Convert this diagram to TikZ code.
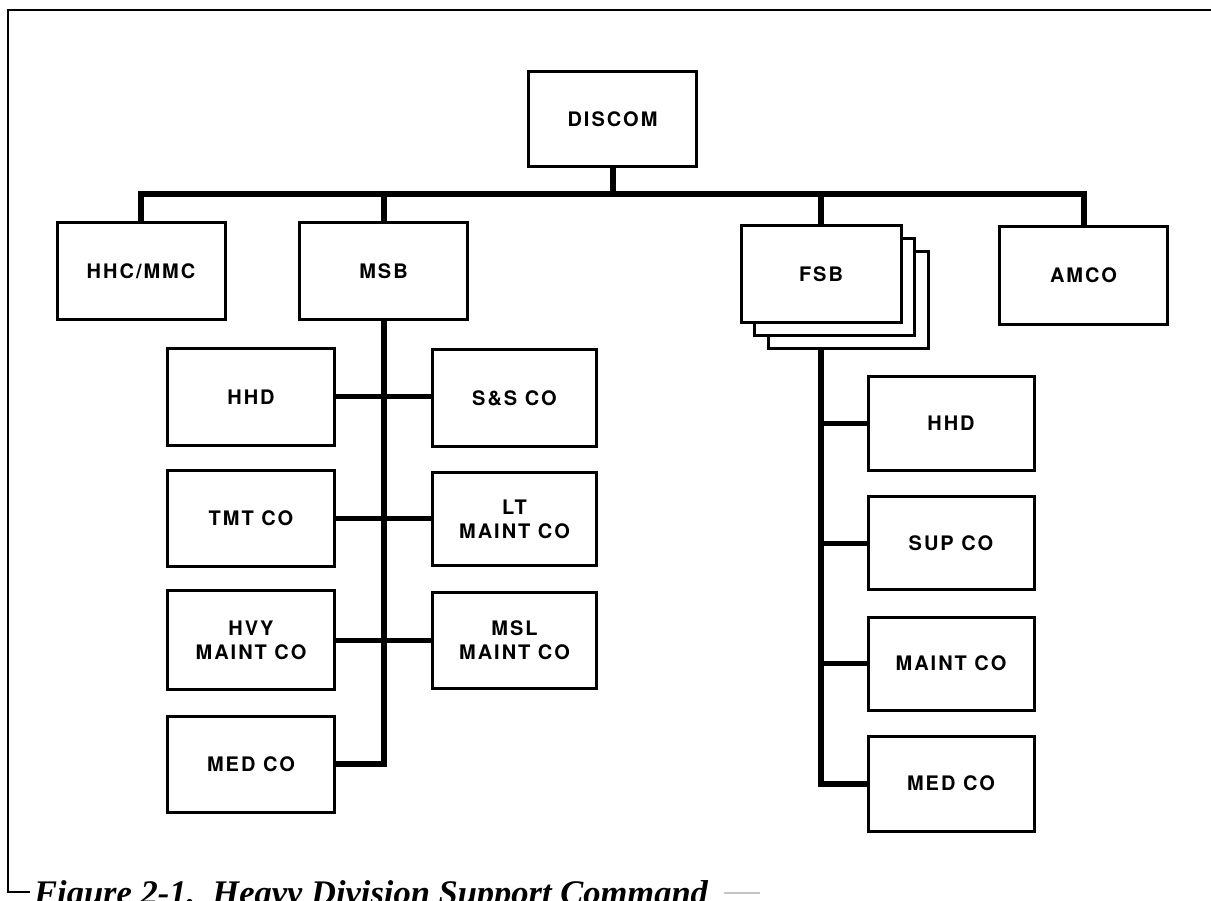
\documentclass[tikz,border=0pt]{standalone}
\usepackage{fontspec}
\newfontfamily\labfont[LetterSpace=10]{TeX Gyre Heros}
\newfontfamily\capfont{Liberation Serif}
\begin{document}
\begin{tikzpicture}[x=1pt,y=-1pt,
  box/.style={draw, line width=3pt, fill=white, inner sep=0pt, align=center,
    font=\labfont\bfseries\fontsize{20}{24}\selectfont},
  topbox/.style={box, minimum width=168pt, minimum height=97pt},
  fsbbox/.style={box, minimum width=160pt, minimum height=97pt},
  child/.style={box, minimum width=167pt, minimum height=96pt},
  childr/.style={box, minimum width=166pt, minimum height=93pt},
  conn/.style={line width=6pt, line join=miter},
  branch/.style={line width=5pt},
  frame/.style={line width=2.5pt},
  ]
\useasboundingbox (0,0) rectangle (1211,901);
% frame and caption
\coordinate (ftr) at (1211,10);
\coordinate (ftl) at (8,10);
\coordinate (fbl) at (8,892);
\coordinate (fbe) at (30,892);
\draw[frame] (ftr) -- (ftl) -- (fbl) -- (fbe);
\node[anchor=base west, inner sep=0pt,
  font=\capfont\bfseries\itshape\fontsize{34.5}{40}\selectfont] (cap) at (34,904)
  {Figure 2-1.\ \ Heavy Division Support Command};
\coordinate (d1) at (724,893);
\coordinate (d2) at (760,893);
\draw[gray!45, line width=2pt] (d1) -- (d2);

% top level
\node[topbox, minimum width=168pt, minimum height=95pt] (discom) at (612.5,119) {DISCOM};
\node[topbox] (hhc) at (141,271) {HHC/MMC};
\node[topbox] (msb) at (383.5,271) {MSB};
\node[fsbbox] (fsb3) at (848,300) {};
\node[fsbbox] (fsb2) at (834,287) {};
\node[fsbbox] (fsb) at (821,274.5) {FSB};
\node[topbox, minimum height=98pt] (amco) at (1083.5,275.5) {AMCO};

\coordinate (bus) at (612.5,194);
\draw[conn] (hhc.north) |- (bus) -| (amco.north);
\draw[conn] (discom.south) -- (bus);
\draw[conn] (msb.north) -- (msb.north |- bus);
\draw[conn] (fsb.north) -- (fsb.north |- bus);

% MSB children
\node[child] (hhdl) at (251,397) {HHD};
\node[child] (tmt) at (251,518) {TMT CO};
\node[child, minimum height=99pt] (hvy) at (251,640) {HVY\\MAINT CO};
\node[child] (medl) at (251,764) {MED CO};
\node[child, minimum width=164pt] (ss) at (514.5,398) {S\&S CO};
\node[child, minimum width=164pt, minimum height=93pt] (lt) at (514.5,519) {LT\\MAINT CO};
\node[child, minimum width=164pt] (msl) at (514.5,640.5) {MSL\\MAINT CO};

\draw[conn] (msb.south) -- (msb.south |- medl.east) -- (medl.east);
\draw[branch] (hhdl.east) -- (hhdl.east -| ss.west);
\draw[branch] (tmt.east) -- (tmt.east -| lt.west);
\draw[branch] (hvy.east) -- (hvy.east -| msl.west);

% FSB children
\node[childr] (hhdr) at (951,423.5) {HHD};
\node[childr] (sup) at (951,543) {SUP CO};
\node[childr] (maint) at (951,663.5) {MAINT CO};
\node[childr, minimum height=95pt] (medr) at (951,783.5) {MED CO};

\draw[conn] (fsb.south |- fsb3.south) -- (fsb.south |- medr.west) -- (medr.west);
\draw[branch] (fsb.south |- hhdr.west) -- (hhdr.west);
\draw[branch] (fsb.south |- sup.west) -- (sup.west);
\draw[branch] (fsb.south |- maint.west) -- (maint.west);
\end{tikzpicture}
\end{document}
